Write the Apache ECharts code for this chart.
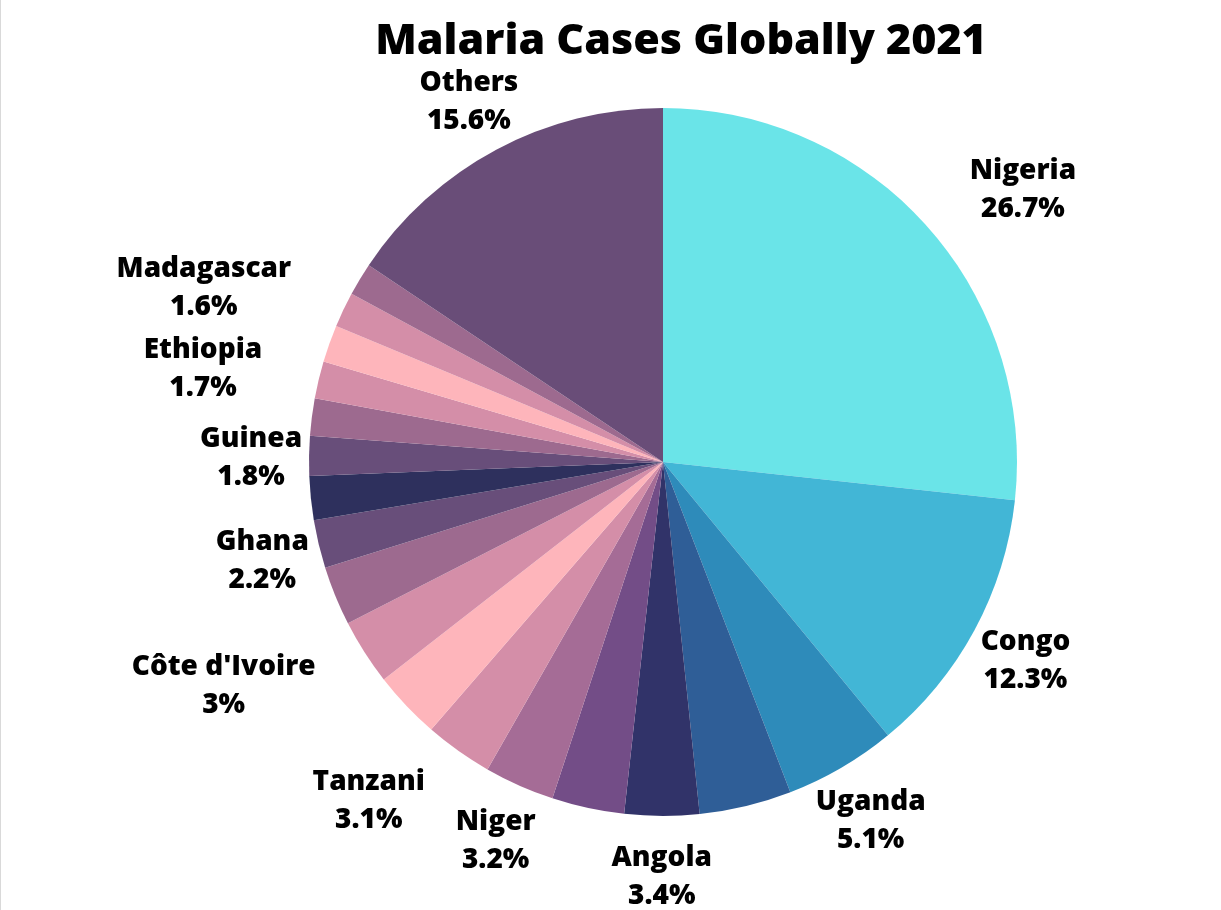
<!DOCTYPE html>
<html>
<head>
<meta charset="utf-8">
<title>Malaria Cases Globally 2021</title>
<script src="https://cdn.jsdelivr.net/npm/echarts@6/dist/echarts.min.js"></script>
<style>
  html, body { margin: 0; padding: 0; background: #fff; }
  #main { width: 1221px; height: 910px; box-sizing: border-box; border-left: 1px solid #d9d9d9; }
</style>
</head>
<body>
<div id="main"></div>
<script>
// slices clockwise from 12 o'clock; empty name = slice drawn without a label
var countries = ['Nigeria', 'Congo', 'Uganda', '', 'Angola', '', 'Niger', 'Tanzani', '',
  "Côte d'Ivoire", '', 'Ghana', '', 'Guinea', '', 'Ethiopia', '', 'Madagascar', '', 'Others'];
var shares = [26.7, 12.3, 5.1, 4.2, 3.4, 3.3, 3.2, 3.1, 3.1, 3, 2.7, 2.2, 2.0, 1.8, 1.7, 1.7, 1.7, 1.6, 1.5, 15.6];
var colors = ['#6ae4e8', '#42b6d6', '#2e8bba', '#2f5e97', '#313369', '#734d87', '#a56c96',
  '#d48ea8', '#feb5bb', '#d48ea8', '#9d6a8f', '#684e7a', '#2e305d', '#684e7a', '#9d6a8f',
  '#d48ea8', '#feb5bb', '#d48ea8', '#9d6a8f', '#694d78'];

// which side of its anchor point a label block sits on (default: centred on it)
var labelSide = {
  'Nigeria': 1,
  'Tanzani': -1,
  "Côte d'Ivoire": -1,
  'Ethiopia': -1,
  'Madagascar': -1
};

var chart = echarts.init(document.getElementById('main'));

var data = countries.map(function (name, i) {
  var item = {
    name: name,
    value: shares[i],
    itemStyle: { color: colors[i] }
  };
  if (!name) {
    item.label = { show: false };
    item.labelLine = { show: false };
  }
  return item;
});

var option = {
  animation: false,
  title: {
    text: 'Malaria Cases Globally 2021',
    left: 680,
    top: 15,
    textAlign: 'center',
    textStyle: {
      fontFamily: 'Open Sans',
      fontWeight: 800,
      fontSize: 43,
      color: '#000'
    }
  },
  series: [{
    type: 'pie',
    center: [662, 462],
    radius: 354,
    startAngle: 90,
    clockwise: true,
    avoidLabelOverlap: false,
    silent: true,
    data: data,
    label: {
      show: true,
      position: 'outside',
      formatter: '{b}\n{c}%',
      fontFamily: 'Open Sans',
      fontWeight: 800,
      fontSize: 28,
      lineHeight: 38,
      color: '#000'
    },
    labelLine: {
      show: true,
      length: 58,
      length2: 0,
      lineStyle: { opacity: 0 }
    },
    labelLayout: function (params) {
      var pts = params.labelLinePoints;
      var name = countries[params.dataIndex];
      if (!name || !pts) return {};
      var side = labelSide[name] || 0;
      return {
        x: pts[1][0] + side * params.labelRect.width / 2,
        y: pts[1][1] + 3,
        align: 'center',
        verticalAlign: 'middle'
      };
    }
  }]
};

chart.setOption(option);
// title block measured a few px right of the reference; nudge it
chart.setOption({ title: { left: 675 } });
</script>
</body>
</html>
